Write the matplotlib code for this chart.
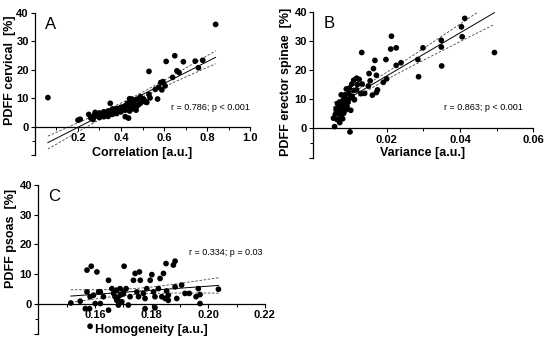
import matplotlib
matplotlib.use("Agg")
import matplotlib.pyplot as plt
import numpy as np

plt.rcParams['font.family'] = ['Liberation Sans', 'DejaVu Sans']

# Panel A: correlation vs PDFF cervical
corr_x = [0.06, 0.84, 0.53, 0.61, 0.65, 0.69, 0.66, 0.67, 0.745, 0.78, 0.76, 0.64,
          0.585, 0.595, 0.575, 0.605, 0.59, 0.56, 0.57, 0.53, 0.535, 0.505, 0.515, 0.49,
          0.475, 0.45, 0.46, 0.43, 0.42, 0.435, 0.35,
          0.20, 0.21, 0.25, 0.26, 0.27, 0.27, 0.28, 0.29, 0.30, 0.31, 0.32, 0.32, 0.33,
          0.34, 0.34, 0.35, 0.36, 0.37, 0.38, 0.38, 0.39, 0.40, 0.40, 0.41, 0.42, 0.42,
          0.43, 0.44, 0.44, 0.45, 0.45, 0.46, 0.47, 0.48, 0.49, 0.50, 0.51, 0.47, 0.36,
          0.30, 0.28, 0.52, 0.44, 0.47]
corr_y = [10.2, 35.9, 19.4, 22.9, 24.9, 22.8, 19.6, 19.0, 23.0, 23.3, 20.7, 17.3,
          15.5, 15.8, 13.8, 14.3, 12.9, 13.1, 9.7, 11.3, 10.1, 9.7, 8.8, 10.5,
          9.6, 9.7, 8.2, 8.2, 3.5, 3.0, 8.2,
          2.3, 2.6, 4.3, 3.0, 3.5, 2.5, 4.5, 3.8, 4.8, 4.2, 5.2, 3.5, 4.8,
          5.5, 3.6, 5.0, 4.3, 5.6, 6.4, 4.6, 6.0, 6.8, 5.2, 6.3, 7.2, 5.8,
          7.8, 6.9, 5.5, 8.4, 6.2, 7.0, 9.5, 7.6, 8.2, 9.0, 8.8, 5.8, 6.2,
          3.2, 5.0, 8.5, 9.8, 6.8]

# Panel B: variance vs PDFF erector spinae
var_x = [0.0055, 0.0058, 0.006, 0.0062, 0.0065, 0.0066, 0.0068, 0.007, 0.0072, 0.0072,
         0.0074, 0.0075, 0.0076, 0.0078, 0.008, 0.008, 0.0082, 0.0083, 0.0085, 0.0086,
         0.0088, 0.009, 0.009, 0.0092, 0.0095, 0.0097, 0.0098, 0.010, 0.010, 0.0102,
         0.0105, 0.0106, 0.011, 0.011, 0.0112, 0.0118, 0.0118, 0.012, 0.0125, 0.013,
         0.0132, 0.0133, 0.014, 0.015, 0.0152, 0.0155, 0.0161, 0.0164, 0.0168, 0.0172,
         0.0172, 0.0175, 0.0191, 0.0198, 0.020, 0.0211, 0.0213, 0.0226, 0.0226, 0.0239,
         0.0285, 0.0287, 0.0299, 0.0349, 0.0349, 0.035, 0.0404, 0.0406, 0.0413, 0.0494]
var_y = [3.5, 0.6, 4.8, 6.5, 3.0, 8.5, 5.5, 7.2, 2.0, 9.0,
         4.2, 6.0, 11.5, 8.0, 3.3, 7.0, 9.8, 5.2, 8.5, 11.5,
         6.3, 10.0, 13.5, 7.5, 9.0, 12.0, 13.8, -1.2, 10.5, 6.2,
         15.2, 11.0, 16.5, 13.0, 9.8, 17.2, 13.2, 15.0, 16.8, 11.9,
         26.0, 15.2, 12.0, 14.5, 18.8, 16.3, 11.4, 20.5, 23.3, 12.3,
         18.2, 13.2, 15.8, 23.6, 17.0, 27.2, 31.6, 27.6, 21.6, 22.5,
         23.6, 17.7, 27.6, 30.2, 27.9, 21.4, 34.8, 31.4, 37.7, 26.0]

# Panel C: homogeneity vs PDFF psoas
hom_x = [0.1515, 0.1548, 0.1572, 0.1587, 0.1607, 0.1572, 0.1583, 0.1595, 0.1566, 0.1581,
         0.1583, 0.1601, 0.1613, 0.1619, 0.1630, 0.1619, 0.1648, 0.1648, 0.166, 0.1666,
         0.1671, 0.1677, 0.1677, 0.1683, 0.1689, 0.1689, 0.1695, 0.1701, 0.1703, 0.171,
         0.1718, 0.1724, 0.1736, 0.1742, 0.1748, 0.1754, 0.1757, 0.176, 0.1771, 0.1777,
         0.1777, 0.1783, 0.1795, 0.1801, 0.1807, 0.1812, 0.1812, 0.1824, 0.183, 0.1836,
         0.1842, 0.1848, 0.1851, 0.1853, 0.1859, 0.1859, 0.1877, 0.1883, 0.1883, 0.1889,
         0.1906, 0.1918, 0.1933, 0.1957, 0.1965, 0.1971, 0.1971, 0.2036, 0.168, 0.170]
hom_y = [0.4, 1.0, 11.4, 12.7, 10.8, 4.1, 2.5, 3.0, -1.5, -1.5,
         -7.4, 0.2, 4.1, 4.1, 2.5, 0.2, 8.0, -2.0, 5.2, 3.6,
         2.5, 4.7, 1.3, -0.3, 3.0, 5.2, 0.8, 4.1, 12.7, 5.2,
         -0.3, 2.5, 8.0, 10.3, 4.1, 2.5, 10.8, 8.0, 3.6, -1.5,
         1.9, 5.2, 8.0, 9.9, 4.1, 2.5, -1.2, 5.2, 8.6, 2.5,
         10.3, 1.9, 13.6, 4.4, 1.3, 3.0, 13.1, 14.4, 5.8, 1.9,
         6.4, 3.6, 3.6, 2.5, 5.2, 3.2, 0.2, 5.0, 1.8, 3.4]

panels = [
    dict(x=corr_x, y=corr_y, rect=[0.0636, 0.549, 0.391, 0.414], xlim=(0, 1.0),
         major=[0.2, 0.4, 0.6, 0.8, 1.0], minor=[0.1, 0.3, 0.5, 0.7, 0.9], fmt="{:.1f}",
         xlabel="Correlation [a.u.]", ylabel="PDFF cervical  [%]", letter="A",
         note="r = 0.786; p < 0.001", note_pos=(1.0, 0.338),
         ylab_pos=(-0.09, 0.6), xlab_pos=(0.5, 0.06)),
    dict(x=var_x, y=var_y, rect=[0.5697, 0.542, 0.4, 0.424], xlim=(0, 0.06),
         major=[0.02, 0.04, 0.06], minor=[0.01, 0.03, 0.05], fmt="{:.2f}",
         xlabel="Variance [a.u.]", ylabel="PDFF erector spinae  [%]", letter="B",
         note="r = 0.863; p < 0.001", note_pos=(0.95, 0.346),
         ylab_pos=(-0.095, 0.52), xlab_pos=(0.495, 0.074)),
    dict(x=hom_x, y=hom_y, rect=[0.0696, 0.029, 0.412, 0.434], xlim=(0.14, 0.22),
         major=[0.16, 0.18, 0.20, 0.22], minor=[0.15, 0.17, 0.19, 0.21], fmt="{:.2f}",
         xlabel="Homogeneity [a.u.]", ylabel="PDFF psoas  [%]", letter="C",
         note="r = 0.334; p = 0.03", note_pos=(0.99, 0.544),
         ylab_pos=(-0.095, 0.64), xlab_pos=(0.5, 0.069)),
]

fig = plt.figure(figsize=(5.5, 3.44), dpi=100)

for p in panels:
    ax = fig.add_axes(p["rect"])
    x = np.array(p["x"])
    y = np.array(p["y"])

    # linear fit with 95% confidence band
    slope, icpt = np.polyfit(x, y, 1)
    xs = np.linspace(x.min(), x.max(), 100)
    fit = slope * xs + icpt
    n = len(x)
    resid = y - (slope * x + icpt)
    s = np.sqrt(np.sum(resid ** 2) / (n - 2))
    se = s * np.sqrt(1 / n + (xs - x.mean()) ** 2 / np.sum((x - x.mean()) ** 2))
    ax.plot(xs, fit, color="black", lw=0.7, zorder=2)
    ax.plot(xs, fit + 1.99 * se, color="#444444", lw=0.6, ls=(0, (3, 2)), zorder=2)
    ax.plot(xs, fit - 1.99 * se, color="#444444", lw=0.6, ls=(0, (3, 2)), zorder=2)

    ax.scatter(x, y, s=17, color="black", edgecolors="none", zorder=3)

    ax.set_xlim(*p["xlim"])
    ax.set_ylim(-10, 40)
    ax.spines["top"].set_visible(False)
    ax.spines["right"].set_visible(False)
    ax.spines["bottom"].set_position(("data", 0))
    ax.spines["left"].set_linewidth(0.9)
    ax.spines["bottom"].set_linewidth(0.9)

    ax.set_xticks(p["major"])
    ax.set_xticklabels([p["fmt"].format(v) for v in p["major"]])
    ax.set_xticks(p["minor"], minor=True)
    ax.set_yticks([-10, 0, 10, 20, 30, 40])
    ax.set_yticklabels(["", "0", "10", "20", "30", "40"])
    ax.set_yticks([-5], minor=True)
    ax.tick_params(which="major", length=3, width=0.8, labelsize=8, pad=1.5)
    ax.tick_params(which="minor", length=2, width=0.7)
    for lab in ax.get_xticklabels() + ax.get_yticklabels():
        lab.set_fontweight("bold")

    ax.set_xlabel(p["xlabel"], fontsize=9, fontweight="bold")
    ax.set_ylabel(p["ylabel"], fontsize=9, fontweight="bold")
    ax.xaxis.set_label_coords(*p["xlab_pos"])
    ax.yaxis.set_label_coords(*p["ylab_pos"])

    ax.text(0.045, 0.97, p["letter"], transform=ax.transAxes, fontsize=12,
            ha="left", va="top")
    ax.text(p["note_pos"][0], p["note_pos"][1], p["note"], transform=ax.transAxes,
            fontsize=6.5, ha="right", va="center")

fig.savefig("out.png", dpi=100)
